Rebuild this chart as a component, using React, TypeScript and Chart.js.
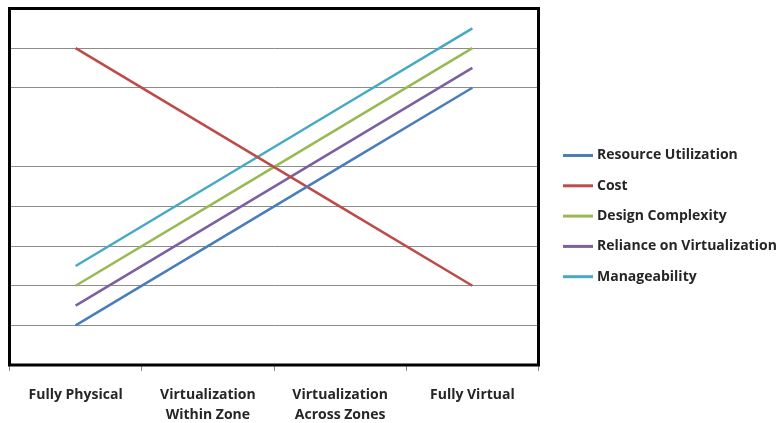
import React, { useEffect, useRef } from "react";
import { Chart, registerables } from "chart.js";

Chart.register(...registerables);

const categories: string[][] = [
  ["Fully Physical"],
  ["Virtualization", "Within Zone"],
  ["Virtualization", "Across Zones"],
  ["Fully Virtual"],
];

const resourceUtilization = [1, 3, 5, 7];
const cost = [8, 6, 4, 2];
const designComplexity = [2, 4, 6, 8];
const relianceOnVirtualization = [1.5, 3.5, 5.5, 7.5];
const manageability = [2.5, 4.5, 6.5, 8.5];

const seriesNames = [
  "Resource Utilization",
  "Cost",
  "Design Complexity",
  "Reliance on Virtualization",
  "Manageability",
];
const seriesColors = ["#4A7EBB", "#BE4B48", "#98B954", "#7D60A0", "#46AAC5"];

const yMin = 0;
const yMax = 9;
const hiddenGridValues = [6];

const FONT = '"Open Sans", "Noto Sans", sans-serif';

const boxPlugin = {
  id: "plotBox",
  afterDraw(chart: any) {
    const { ctx, chartArea } = chart;
    ctx.save();
    ctx.strokeStyle = "#000";
    ctx.lineWidth = 3;
    ctx.strokeRect(
      chartArea.left,
      chartArea.top,
      chartArea.right - chartArea.left,
      chartArea.bottom - chartArea.top
    );
    ctx.restore();
  },
};

const legendPlugin = {
  id: "sideLegend",
  afterDraw(chart: any) {
    const ctx = chart.ctx;
    const x0 = 563;
    const lineLen = 30;
    const top = 155.5;
    const step = 30.3;
    ctx.save();
    chart.data.datasets.forEach((ds: any, i: number) => {
      const y = top + i * step;
      ctx.strokeStyle = ds.borderColor;
      ctx.lineWidth = 3;
      ctx.beginPath();
      ctx.moveTo(x0, y);
      ctx.lineTo(x0 + lineLen, y);
      ctx.stroke();
      ctx.fillStyle = "#262626";
      ctx.font = `bold 14px ${FONT}`;
      ctx.textBaseline = "middle";
      ctx.textAlign = "left";
      ctx.fillText(ds.label, x0 + lineLen + 4, y);
    });
    ctx.restore();
  },
};

export default function App() {
  const canvasRef = useRef<HTMLCanvasElement | null>(null);

  useEffect(() => {
    if (!canvasRef.current) return;
    const values = [
      resourceUtilization,
      cost,
      designComplexity,
      relianceOnVirtualization,
      manageability,
    ];
    const chart = new Chart(canvasRef.current, {
      type: "line",
      data: {
        labels: categories as any,
        datasets: values.map((v, i) => ({
          label: seriesNames[i],
          data: v,
          borderColor: seriesColors[i],
          backgroundColor: seriesColors[i],
          borderWidth: 2.5,
          pointRadius: 0,
          tension: 0,
          fill: false,
        })),
      },
      options: {
        animation: false,
        responsive: false,
        devicePixelRatio: 1,
        layout: { padding: { left: 9.5, top: 8.5, right: 244.5, bottom: 0 } },
        plugins: {
          legend: { display: false },
          tooltip: { enabled: false },
        },
        scales: {
          x: {
            offset: true,
            afterFit: (scale: any) => {
              scale.height = 58;
            },
            border: { display: false },
            grid: {
              offset: true,
              drawOnChartArea: false,
              drawTicks: true,
              tickLength: 6,
              color: "#8c8c8c",
              lineWidth: 1,
            },
            ticks: {
              padding: 14,
              color: "#262626",
              font: { family: FONT, size: 14, weight: "bold", lineHeight: 20 / 14 },
              maxRotation: 0,
              autoSkip: false,
            },
          },
          y: {
            min: yMin,
            max: yMax,
            border: { display: false },
            grid: {
              drawTicks: false,
              color: (c: any) =>
                hiddenGridValues.includes(c.tick?.value) ? "rgba(0,0,0,0)" : "#8c8c8c",
              lineWidth: 1,
            },
            ticks: { display: false, stepSize: 1 },
          },
        },
      },
      plugins: [boxPlugin, legendPlugin],
    });
    return () => chart.destroy();
  }, []);

  return (
    <div style={{ position: "absolute", left: 0, top: 0, width: 783, height: 423, background: "#fff" }}>
      <canvas ref={canvasRef} width={783} height={423} />
    </div>
  );
}
